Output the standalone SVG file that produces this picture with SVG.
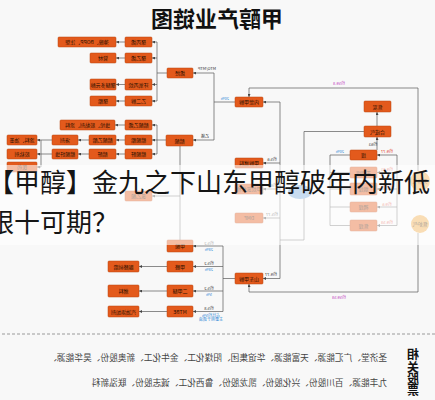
<svg xmlns="http://www.w3.org/2000/svg" width="435" height="400" viewBox="0 0 435 400">
<defs>
<style>
.bx{fill:#E35A1C;stroke:#B9470F;stroke-width:.5}
.bt{font-family:"Noto Sans CJK SC","Noto Sans",sans-serif;font-size:5px;fill:#2a0f00;text-anchor:middle}
.ln{fill:none;stroke:#5a5a5a;stroke-width:.7}
.ar{marker-end:url(#a)}
.lb{font-family:"Noto Sans CJK SC","Noto Sans",sans-serif;font-size:4px;fill:#333;text-anchor:middle}
.bl{fill:#2b86d6}
.rd{fill:#e0392a}
.mg{fill:#c03cc0}
.cap{font-family:"Noto Sans CJK SC",sans-serif;font-size:26px;fill:#151515}
.ft{font-family:"Noto Sans CJK SC",sans-serif;font-size:8.7px;fill:#444}
.vt{font-family:"Noto Sans CJK SC",sans-serif;font-size:12px;font-weight:700;fill:#111;text-anchor:middle}
</style>
<marker id="a" viewBox="0 0 6 6" refX="6" refY="3" markerWidth="3" markerHeight="3" orient="auto" markerUnits="userSpaceOnUse"><path d="M0,0L6,3L0,6z" fill="#444"/></marker>
</defs>
<rect width="435" height="400" fill="#F8F8F8"/>
<g transform="matrix(-1 0 0 1 435 0)">
<text x="218" y="27" font-family="Noto Sans CJK SC, sans-serif" font-size="22" font-weight="700" fill="#111" text-anchor="middle">甲醇产业链图</text>

<g id="connectors">
<path class="ln" d="M268,73H278M278,42V101"/>
<path class="ln ar" d="M278,42H283"/><path class="ln ar" d="M278,58H283"/><path class="ln ar" d="M278,84.5H283"/><path class="ln ar" d="M278,101H283"/>
<path class="ln ar" d="M310,42H319"/><path class="ln ar" d="M310,58H319"/><path class="ln ar" d="M310,84.5H319"/><path class="ln ar" d="M310,101H319"/>
<path class="ln" d="M221,73V140M200,102H221"/>
<path class="ln ar" d="M221,73H242"/><path class="ln ar" d="M221,140H242"/>
<path class="ln" d="M269,140H278M278,125V154"/>
<path class="ln ar" d="M278,125H283"/><path class="ln ar" d="M278,140H283"/><path class="ln ar" d="M278,154H283"/>
<path class="ln ar" d="M310,125H320"/><path class="ln ar" d="M310,140H319"/><path class="ln ar" d="M310,154H319"/>
<path class="ln ar" d="M346,140H357"/><path class="ln ar" d="M346,154H357"/>
<path class="ln" d="M383,140H394M383,154H394M394,140V167"/>
<path class="ln ar" d="M394,140H398"/><path class="ln ar" d="M394,154H398"/><path class="ln ar" d="M394,167H398"/>
<path class="ln" d="M255,146V240"/><path class="ln ar" d="M255,196H283"/>
<path class="ln ar" d="M17,171V88H186V97"/>
<path class="ln" d="M155,102V278.5"/>
<path class="ln ar" d="M155,102H172"/><path class="ln ar" d="M155,163H172"/><path class="ln ar" d="M155,189H172"/><path class="ln ar" d="M155,218H172"/><path class="ln ar" d="M155,278.5H172"/>
<path class="ln" d="M71,131.5H131V240H155"/>
<path class="ln ar" d="M58,126V112"/><path class="ln ar" d="M58,150V137"/>
<path class="ln" d="M105,155V225.5M85,155H105M85,172.5H105M85,189H105M85,207H105M85,225.5H105"/>
<path class="ln" d="M38,155V225.5"/>
<path class="ln ar" d="M38,155H58"/><path class="ln ar" d="M38,172.5H58"/><path class="ln ar" d="M38,189H58"/><path class="ln ar" d="M38,207H58"/><path class="ln ar" d="M38,225.5H58"/>
<path class="ln ar" d="M17,233V292H186V284"/>
<path class="ln" d="M200,278.5H212M212,246V311.5"/>
<path class="ln ar" d="M212,246H242"/><path class="ln ar" d="M212,266.5H242"/><path class="ln ar" d="M212,291H242"/><path class="ln ar" d="M212,311.5H242"/>
<path class="ln ar" d="M268,266.5H296"/><path class="ln ar" d="M268,291H296"/><path class="ln ar" d="M268,311.5H296"/>
<text class="lb" x="228" y="70">MTO/MTP</text>
<text class="lb" x="230" y="138">乙烯</text>
<text class="lb bl" x="210" y="100">20%</text>
<text class="lb mg" x="96" y="85">约59.8</text>
<text class="lb" x="163" y="161">约5.6</text>
<text class="lb" x="163" y="187">约6.1</text>
<text class="lb" x="163" y="216">约5.77</text>
<text class="lb" x="164" y="276">约9.77</text>
<text class="lb mg" x="96" y="299">约59.58</text>
<text class="lb" x="62" y="146">约63</text>
<text class="lb bl" x="95" y="153">20%</text>
<text class="lb rd" x="48" y="153">约9.77</text>
<text class="lb rd" x="48" y="171">约9.81</text>
<text class="lb rd" x="48" y="187.5">约9.6</text>
<text class="lb rd" x="48" y="205.5">约9.6</text>
<text class="lb rd" x="48" y="224">约9.58</text>
<text class="lb" x="226" y="244.5">约5.2</text><text class="lb bl" x="226" y="250.5">28%</text>
<text class="lb" x="226" y="265">约5.2</text><text class="lb bl" x="226" y="271">28%</text>
<text class="lb" x="226" y="289.5">约5.2</text><text class="lb bl" x="226" y="295.5">5%</text>
<text class="lb" x="226" y="310">约5.8</text><text class="lb bl" x="224" y="316.5">占比约5%</text><text class="lb bl" x="224" y="321">主要用于调油</text>
</g>

<g id="n_w1"><rect class="bx" x="319" y="37" width="58" height="10" rx="1"/><text class="bt" x="348" y="44">薄膜、BOPP、注塑</text></g>
<g id="n_a1"><rect class="bx" x="283" y="37" width="27" height="10" rx="1"/><text class="bt" x="296.5" y="44">聚丙烯</text></g>
<g id="n_b2"><rect class="bx" x="319" y="53" width="26" height="10" rx="1"/><text class="bt" x="332" y="60">管材</text></g>
<g id="n_a2"><rect class="bx" x="283" y="53" width="27" height="10" rx="1"/><text class="bt" x="296.5" y="60">聚乙烯</text></g>
<g id="n_b3"><rect class="bx" x="319" y="79" width="26" height="11" rx="1"/><text class="bt" x="332" y="86.5">聚醚多元醇</text></g>
<g id="n_a3"><rect class="bx" x="283" y="79" width="27" height="11" rx="1"/><text class="bt" x="296.5" y="86.5">环氧丙烷</text></g>
<g id="n_b4"><rect class="bx" x="319" y="96" width="26" height="10" rx="1"/><text class="bt" x="332" y="103">聚酯</text></g>
<g id="n_a4"><rect class="bx" x="283" y="96" width="27" height="10" rx="1"/><text class="bt" x="296.5" y="103">乙二醇</text></g>
<g id="n_t"><rect class="bx" x="242" y="68" width="26" height="10" rx="1"/><text class="bt" x="255" y="75">烯烃</text></g>
<g id="n_wa"><rect class="bx" x="320" y="120" width="55" height="10" rx="1"/><text class="bt" x="347.5" y="127">维纶、胶黏剂、涂料</text></g>
<g id="n_aa"><rect class="bx" x="283" y="120" width="27" height="10" rx="1"/><text class="bt" x="296.5" y="127">醋酸乙烯</text></g>
<g id="n_pb"><rect class="bx" x="398" y="135" width="30" height="10" rx="1"/><text class="bt" x="413" y="142">涂料、油墨</text></g>
<g id="n_qb"><rect class="bx" x="357" y="135" width="26" height="10" rx="1"/><text class="bt" x="370" y="142">溶剂</text></g>
<g id="n_sb"><rect class="bx" x="319" y="135" width="27" height="10" rx="1"/><text class="bt" x="332.5" y="142">醋酸乙酯</text></g>
<g id="n_ab"><rect class="bx" x="283" y="135" width="27" height="10" rx="1"/><text class="bt" x="296.5" y="142">醋酸酯</text></g>
<g id="n_pc"><rect class="bx" x="398" y="149" width="30" height="10" rx="1"/><text class="bt" x="413" y="156">胶粘剂</text></g>
<g id="n_qc"><rect class="bx" x="357" y="149" width="26" height="10" rx="1"/><text class="bt" x="370" y="156">醋酸纤维</text></g>
<g id="n_sc"><rect class="bx" x="319" y="149" width="27" height="10" rx="1"/><text class="bt" x="332.5" y="156">醋酐</text></g>
<g id="n_ac"><rect class="bx" x="283" y="149" width="27" height="10" rx="1"/><text class="bt" x="296.5" y="156">醋酸酐</text></g>
<g id="n_pd"><rect class="bx" x="398" y="162" width="30" height="10" rx="1"/><text class="bt" x="413" y="169">医药</text></g>
<g id="n_e"><rect class="bx" x="242" y="135" width="27" height="11" rx="1"/><text class="bt" x="255.5" y="142.5">醋酸</text></g>
<g id="n_lb"><rect class="bx" x="283" y="191" width="27" height="10" rx="1"/><text class="bt" x="296.5" y="198">氯乙酸</text></g>
<g id="n_c"><rect class="bx" x="172" y="97" width="28" height="10" rx="1"/><text class="bt" x="186" y="104">内蒙甲醇</text></g>
<g id="n_k1"><rect class="bx" x="172" y="158" width="28" height="10" rx="1"/><text class="bt" x="186" y="165">甲醇燃料</text></g>
<g id="n_k2"><rect class="bx" x="172" y="184" width="28" height="10" rx="1"/><text class="bt" x="186" y="191">甲烷氯化物</text></g>
<g id="n_k3"><rect class="bx" x="172" y="213" width="28" height="10" rx="1"/><text class="bt" x="186" y="220">DMF</text></g>
<g id="n_g"><rect class="bx" x="172" y="273" width="28" height="11" rx="1"/><text class="bt" x="186" y="280.5">山东甲醇</text></g>
<g id="n_h0"><rect class="bx" x="242" y="240" width="26" height="12" rx="1"/><text class="bt" x="255" y="247.5">甲酸</text></g>
<g id="n_h1"><rect class="bx" x="242" y="261" width="26" height="11" rx="1"/><text class="bt" x="255" y="268.5">甲醛</text></g>
<g id="n_h2"><rect class="bx" x="242" y="285" width="26" height="12" rx="1"/><text class="bt" x="255" y="292.5">二甲醚</text></g>
<g id="n_h3"><rect class="bx" x="242" y="306" width="26" height="11" rx="1"/><text class="bt" x="255" y="313.5">MTBE</text></g>
<g id="n_i1"><rect class="bx" x="296" y="261" width="31" height="11" rx="1"/><text class="bt" x="311.5" y="268.5">脲醛树脂</text></g>
<g id="n_i2"><rect class="bx" x="296" y="285" width="31" height="12" rx="1"/><text class="bt" x="311.5" y="292.5">燃料</text></g>
<g id="n_i3"><rect class="bx" x="296" y="306" width="31" height="11" rx="1"/><text class="bt" x="311.5" y="313.5">汽油添加剂</text></g>
<g id="n_r1"><rect class="bx" x="44" y="101" width="27" height="11" rx="1"/><text class="bt" x="57.5" y="108.5">焦炭</text></g>
<g id="n_r2"><rect class="bx" x="44" y="126" width="27" height="11" rx="1"/><text class="bt" x="57.5" y="133.5">合成气</text></g>
<g id="n_d1"><rect class="bx" x="58" y="150" width="27" height="10" rx="1"/><text class="bt" x="71.5" y="157">煤</text></g>
<g id="n_l1"><rect class="bx" x="58" y="167" width="27" height="11" rx="1"/><text class="bt" x="71.5" y="174.5">无烟煤</text></g>
<g id="n_l2"><rect class="bx" x="58" y="183" width="27" height="12" rx="1"/><text class="bt" x="71.5" y="191">烟煤</text></g>
<g id="n_l3"><rect class="bx" x="58" y="202" width="27" height="10" rx="1"/><text class="bt" x="71.5" y="209">褐煤</text></g>
<g id="n_l4"><rect class="bx" x="58" y="220" width="27" height="11" rx="1"/><text class="bt" x="71.5" y="227.5">焦煤</text></g>
<g id="n_o1"><circle cx="15" cy="181" r="10" fill="#F0AA46"/><text class="bt" x="15" y="183">天然气</text></g>
<g id="n_o2"><circle cx="15" cy="224" r="9" fill="#F0AA46"/><text class="bt" x="15" y="226">焦炉气</text></g>
<g id="n_bl"><ellipse cx="135" cy="192" rx="12" ry="7" fill="#75A7D9"/></g>

<line x1="0" y1="334" x2="435" y2="334" stroke="#9a9a9a" stroke-width="1" stroke-dasharray="3 2"/>
<g id="stocks">
<text class="vt" x="22" y="359">相</text><text class="vt" x="22" y="371.5">关</text><text class="vt" x="22" y="383">股</text><text class="vt" x="22" y="395">票</text>
<text class="ft" x="48" y="361">圣济堂、广汇能源、天富能源、华谊集团、阳煤化工、金牛化工、新奥股份、昊华能源、</text>
<text class="ft" x="48" y="386">九丰能源、百川股份、兴化股份、凯龙股份、鲁西化工、诚志股份、联泓新科</text>
</g>
</g>
<rect x="0" y="165" width="435" height="80" fill="#ffffff" fill-opacity="0.6"/>
<text class="cap" x="-12" y="192">【甲醇】金九之下山东甲醇破年内新低</text>
<text class="cap" x="-12" y="232">银十可期？</text>
</svg>
